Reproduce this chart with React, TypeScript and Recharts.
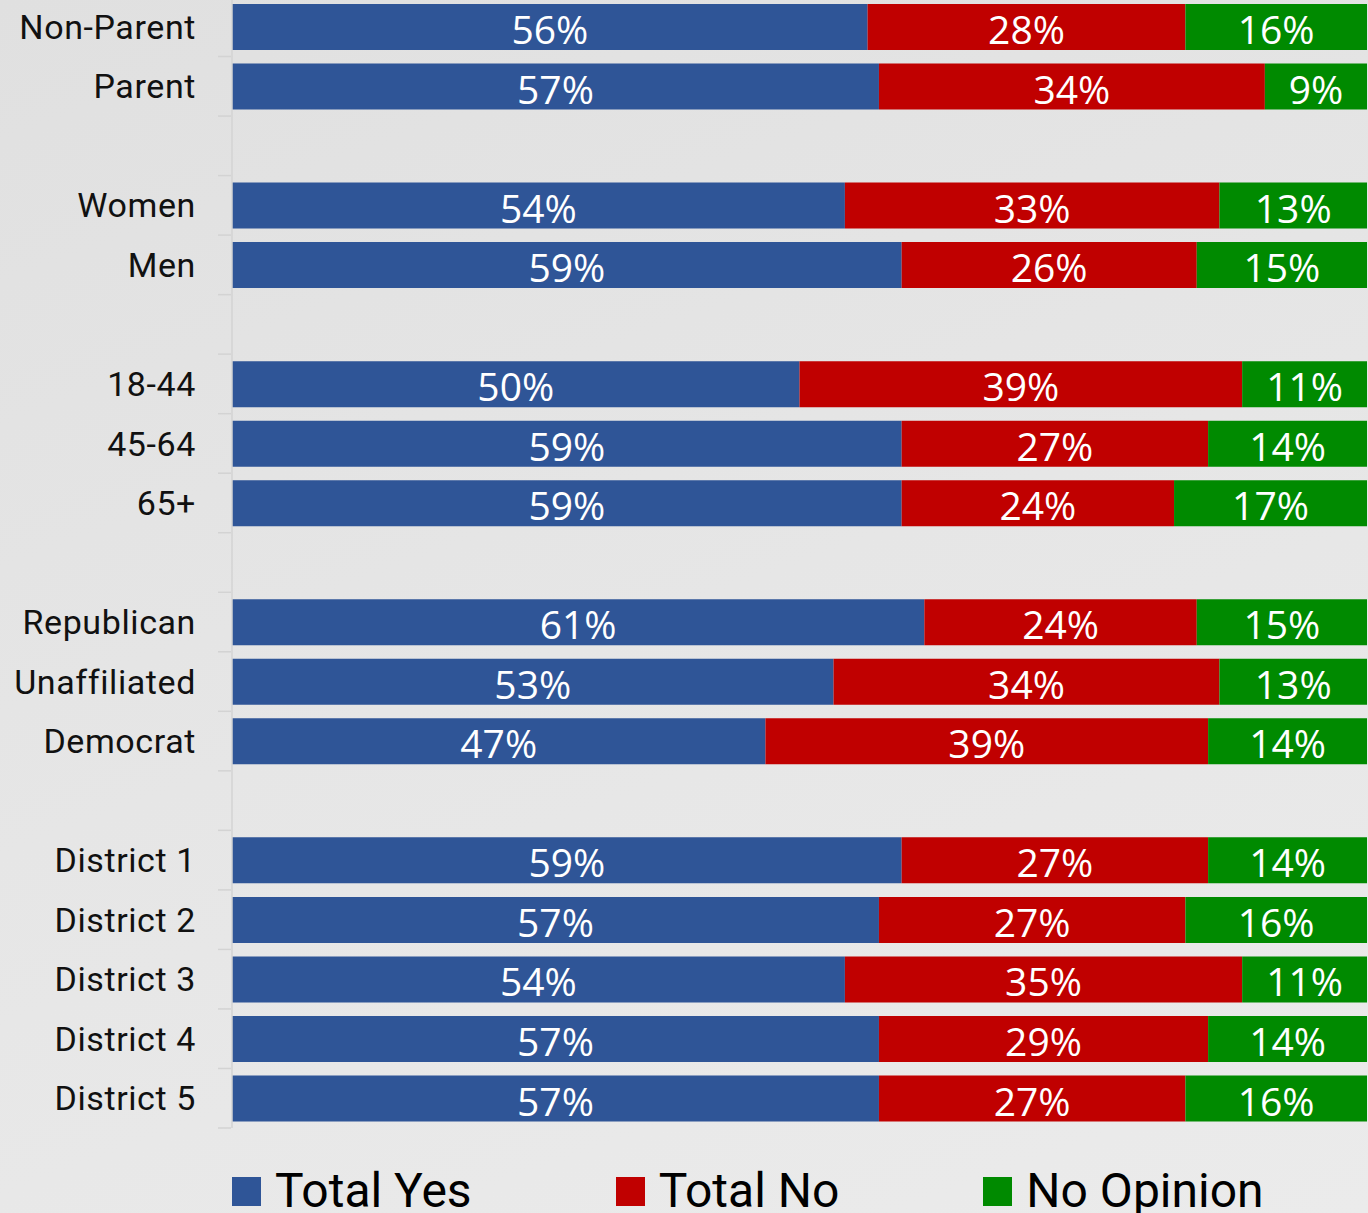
import React from "react";
import { BarChart, Bar, XAxis, YAxis, LabelList, Legend } from "recharts";

const categories = [
  "Non-Parent", "Parent", "",
  "Women", "Men", "",
  "18-44", "45-64", "65+", "",
  "Republican", "Unaffiliated", "Democrat", "",
  "District 1", "District 2", "District 3", "District 4", "District 5",
];
const totalYes = [56, 57, null, 54, 59, null, 50, 59, 59, null, 61, 53, 47, null, 59, 57, 54, 57, 57];
const totalNo = [28, 34, null, 33, 26, null, 39, 27, 24, null, 24, 34, 39, null, 27, 27, 35, 29, 27];
const noOpinion = [16, 9, null, 13, 15, null, 11, 14, 17, null, 15, 13, 14, null, 14, 16, 11, 14, 16];

const seriesNames = ["Total Yes", "Total No", "No Opinion"];
const colors = ["#2F5597", "#C00000", "#008A00"];

const data = categories.map((c, i) => ({
  key: c === "" ? `gap${i}` : c,
  yes: totalYes[i],
  no: totalNo[i],
  none: noOpinion[i],
}));

const CHART_W = 1368;
const CHART_H = 1216;
const PLOT_H = 1131;
const BAND = PLOT_H / categories.length;

const YTick = (props: any) => {
  const { y, payload } = props;
  const v: string = payload.value;
  const label = v.startsWith("gap") ? "" : v;
  return (
    <g>
      <line x1={218} x2={231} y1={y + BAND / 2} y2={y + BAND / 2} stroke="#d3d3d3" strokeWidth={1.5} />
      <text
        x={196}
        y={y + 34 * 0.355}
        textAnchor="end"
        fontFamily="Roboto"
        fontSize={34}
        letterSpacing={0.6}
        fill="#111"
      >
        {label}
      </text>
    </g>
  );
};

const BarLabel = (props: any) => {
  const { x, y, width, height, value } = props;
  if (value == null) return null;
  return (
    <text
      x={x + width / 2}
      y={y + height / 2 + 39 * 0.36 + 3}
      textAnchor="middle"
      fontFamily="'Open Sans'"
      fontSize={39}
      fill="#ffffff"
    >
      {`${value}%`}
    </text>
  );
};

const LegendContent = () => (
  <div style={{ display: "flex", alignItems: "center", height: 50, paddingLeft: 232, whiteSpace: "nowrap", width: 1368, boxSizing: "border-box" }}>
    {seriesNames.map((n, i) => (
      <div key={n} style={{ display: "flex", alignItems: "center", marginRight: 144, flexShrink: 0 }}>
        <div style={{ width: 29, height: 29, background: colors[i], marginRight: 14, flexShrink: 0 }} />
        <span style={{ fontFamily: "Roboto", fontSize: 48, color: "#000", lineHeight: "50px", whiteSpace: "nowrap" }}>{n}</span>
      </div>
    ))}
  </div>
);

export default function App() {
  return (
    <div
      style={{
        position: "absolute",
        left: 0,
        top: 0,
        width: 1368,
        height: 1213,
        overflow: "hidden",
        background: "linear-gradient(160deg, #e0e0e0 0%, #e6e6e6 50%, #ebebeb 100%)",
      }}
    >
      <div style={{ position: "absolute", left: 0, top: -3 }}>
        <BarChart
          width={CHART_W}
          height={CHART_H}
          data={data}
          layout="vertical"
          margin={{ top: 0, right: 1, left: 0, bottom: 35 }}
          barSize={46}
        >
          <XAxis type="number" domain={[0, 100]} hide />
          <YAxis
            type="category"
            dataKey="key"
            width={232}
            axisLine={{ stroke: "#d3d3d3", strokeWidth: 1.5 }}
            tickLine={false}
            tick={<YTick />}
            interval={0}
          />
          <Legend
            verticalAlign="bottom"
            content={<LegendContent />}
            wrapperStyle={{ top: 1169, bottom: "auto", left: 0, width: 1368, height: 50 }}
          />
          <Bar dataKey="yes" name="Total Yes" stackId="a" fill={colors[0]} isAnimationActive={false}>
            <LabelList dataKey="yes" content={<BarLabel />} />
          </Bar>
          <Bar dataKey="no" name="Total No" stackId="a" fill={colors[1]} isAnimationActive={false}>
            <LabelList dataKey="no" content={<BarLabel />} />
          </Bar>
          <Bar dataKey="none" name="No Opinion" stackId="a" fill={colors[2]} isAnimationActive={false}>
            <LabelList dataKey="none" content={<BarLabel />} />
          </Bar>
        </BarChart>
      </div>
    </div>
  );
}
